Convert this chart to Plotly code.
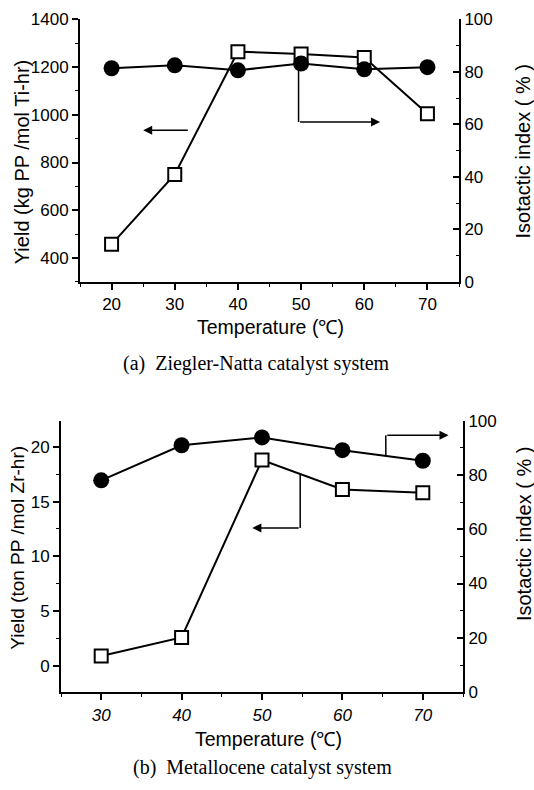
import plotly.graph_objects as go

# ---------------- data ----------------
# (a) Ziegler-Natta catalyst system
temp_a = [20, 30, 40, 50, 60, 70]
yield_a = [457, 750, 1265, 1255, 1240, 1005]          # kg PP/mol Ti-hr (left axis)
iso_a = [81.4, 82.5, 80.6, 83.2, 81.0, 81.8]          # isotactic index % (right axis)

# (b) Metallocene catalyst system
temp_b = [30, 40, 50, 60, 70]
yield_b = [0.9, 2.6, 18.8, 16.1, 15.8]                 # ton PP/mol Zr-hr (left axis)
iso_b = [78.0, 90.9, 93.8, 89.1, 85.2]                 # isotactic index % (right axis)

xticks_a = [20, 30, 40, 50, 60, 70]
yticks_a = [400, 600, 800, 1000, 1200, 1400]
xticks_b = [30, 40, 50, 60, 70]
yticks_b = [0, 5, 10, 15, 20]
rticks = [0, 20, 40, 60, 80, 100]

SANS = "Liberation Sans, Arial, sans-serif"
SERIF = "Liberation Serif, Times New Roman, serif"
BLACK = "black"
W, H = 534, 790


def px(xp):
    return xp / W


def py(yp):
    return 1 - yp / H


fig = go.Figure()

sq = dict(symbol="square", size=13, color="white", line=dict(color=BLACK, width=2))
ci = dict(symbol="circle", size=16, color=BLACK, line=dict(color=BLACK, width=0))

fig.add_trace(go.Scatter(x=temp_a, y=yield_a, mode="lines+markers", marker=sq,
                         line=dict(color=BLACK, width=2), xaxis="x", yaxis="y", showlegend=False))
fig.add_trace(go.Scatter(x=temp_a, y=iso_a, mode="lines+markers", marker=ci,
                         line=dict(color=BLACK, width=2), xaxis="x", yaxis="y2", showlegend=False))
fig.add_trace(go.Scatter(x=temp_b, y=yield_b, mode="lines+markers", marker=sq,
                         line=dict(color=BLACK, width=2), xaxis="x2", yaxis="y3", showlegend=False))
fig.add_trace(go.Scatter(x=temp_b, y=iso_b, mode="lines+markers", marker=ci,
                         line=dict(color=BLACK, width=2), xaxis="x2", yaxis="y4", showlegend=False))

tickfont = dict(family=SANS, size=17, color=BLACK)

dom_a_x = [px(80), px(459)]
dom_a_y = [py(279.5), py(10.7)]
dom_b_x = [px(61), px(463)]
dom_b_y = [py(700), py(421.7)]

base = dict(showgrid=False, zeroline=False, showline=True, linecolor=BLACK, linewidth=2,
            tickcolor=BLACK, tickwidth=1.5, ticklen=6, tickfont=tickfont)
minor = dict(ticklen=3, tickcolor=BLACK, tickwidth=1, showgrid=False)

fig.update_layout(
    width=W, height=H, margin=dict(l=0, r=0, t=0, b=0),
    paper_bgcolor="white", plot_bgcolor="white",
    xaxis=dict(base, domain=dom_a_x, anchor="y", range=[15, 75], tickvals=xticks_a,
               ticks="outside", minor=dict(minor, dtick=5, ticks="outside")),
    yaxis=dict(base, domain=dom_a_y, anchor="x", range=[300, 1400], tickvals=yticks_a,
               ticks="outside", minor=dict(minor, dtick=100, ticks="outside")),
    yaxis2=dict(base, domain=dom_a_y, anchor="x", overlaying="y", side="right",
                range=[0, 100], tickvals=rticks, ticks="inside",
                minor=dict(minor, dtick=10, ticks="inside")),
    xaxis3=dict(base, domain=dom_a_x, anchor="y", overlaying="x", side="top",
                range=[15, 75], tickvals=xticks_a, ticks="inside", showticklabels=False,
                minor=dict(minor, dtick=5, ticks="inside")),
    xaxis2=dict(base, domain=dom_b_x, anchor="y3", range=[25, 75], tickvals=xticks_b,
                ticks="outside", minor=dict(minor, dtick=5, ticks="outside"),
                tickfont=dict(tickfont, style="italic")),
    yaxis3=dict(base, domain=dom_b_y, anchor="x2", range=[-2.4, 22.4], tickvals=yticks_b,
                ticks="outside", minor=dict(minor, dtick=2.5, ticks="outside")),
    yaxis4=dict(base, domain=dom_b_y, anchor="x2", overlaying="y3", side="right",
                range=[0, 100], tickvals=rticks, ticks="inside",
                minor=dict(minor, dtick=10, ticks="inside")),
    xaxis4=dict(base, domain=dom_b_x, anchor="y3", overlaying="x2", side="top",
                range=[25, 75], tickvals=xticks_b, ticks="inside", showticklabels=False,
                minor=dict(minor, dtick=5, ticks="inside")),
)

# axis titles (placed as text annotations)
tf = dict(family=SANS, size=19.5, color=BLACK)
titles = [
    ("Temperature (℃)", 270, 326, 0, tf),
    ("Temperature (℃)", 268, 748, 0, tf),
    ("Yield (kg PP /mol Ti-hr)", 22, 157, -90, dict(tf, size=20)),
    ("Isotactic index ( % )", 523, 146, -90, dict(tf, size=20)),
    ("Yield (ton PP /mol Zr-hr)", 18, 552, -90, dict(tf, size=19)),
    ("Isotactic index ( % )", 524, 538, -90, dict(tf, size=20)),
]
for txt, xp_, yp_, ang, f in titles:
    fig.add_annotation(text=txt, xref="paper", yref="paper", x=px(xp_), y=py(yp_),
                       xanchor="center", yanchor="middle", textangle=ang,
                       showarrow=False, font=f)

# arrow guides (which axis each series belongs to)
ln = dict(color=BLACK, width=1.5)
fig.add_shape(type="line", xref="x", yref="y", x0=49.6, x1=49.6, y0=1215, y1=970, line=ln)
fig.add_shape(type="line", xref="x2", yref="y3", x0=65.4, x1=65.4, y0=19.2, y1=21.05, line=ln)
fig.add_shape(type="line", xref="x2", yref="y3", x0=54.75, x1=54.75, y0=17.5, y1=12.6, line=ln)

arrow = dict(text="", showarrow=True, arrowhead=2, arrowsize=1.2, arrowwidth=1.5,
             arrowcolor=BLACK)
fig.add_annotation(arrow, xref="x", yref="y", axref="x", ayref="y",
                   x=25.0, y=935, ax=32.3, ay=935)
fig.add_annotation(arrow, xref="x", yref="y", axref="x", ayref="y",
                   x=62.5, y=970, ax=49.6, ay=970)
fig.add_annotation(arrow, xref="x2", yref="y3", axref="x2", ayref="y3",
                   x=73.2, y=21.05, ax=65.4, ay=21.05)
fig.add_annotation(arrow, xref="x2", yref="y3", axref="x2", ayref="y3",
                   x=48.8, y=12.6, ax=54.75, ay=12.6)

# captions
fig.add_annotation(text="(a)  Ziegler-Natta catalyst system", xref="paper", yref="paper",
                   x=px(256), y=py(363), xanchor="center", yanchor="middle", showarrow=False,
                   font=dict(family=SERIF, size=20, color=BLACK))
fig.add_annotation(text="(b)  Metallocene catalyst system", xref="paper", yref="paper",
                   x=px(262), y=py(777), xanchor="center", yanchor="middle", showarrow=False,
                   font=dict(family=SERIF, size=20, color=BLACK))

fig.write_html("out.html")
